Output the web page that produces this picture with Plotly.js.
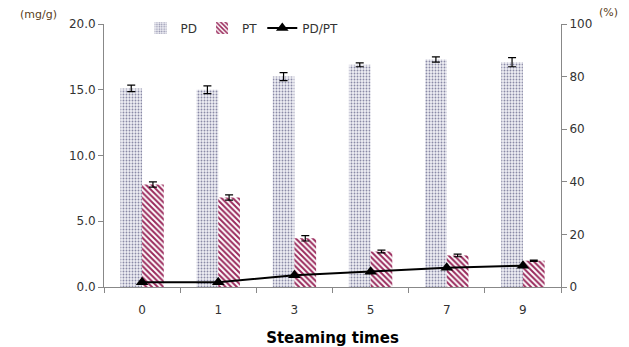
<!DOCTYPE html>
<html><head><meta charset="utf-8">
<script src="https://cdn.plot.ly/plotly-3.0.1.min.js"></script>
<style>html,body{margin:0;padding:0;background:#fff}</style>
</head><body><div id="chart" style="width:629px;height:347px"></div>
<script>
const categories = ["0","1","3","5","7","9"];
const pdValues = [15.1, 15.0, 16.0, 16.9, 17.3, 17.1];
const pdErrors = [0.25, 0.3, 0.3, 0.15, 0.2, 0.35];
const ptValues = [7.8, 6.8, 3.7, 2.7, 2.4, 2.0];
const ptErrors = [0.2, 0.2, 0.2, 0.1, 0.1, 0.05];
const ratioValues = [1.8, 1.8, 4.5, 5.8, 7.3, 8.1];

const traces = [
  {type:'bar', name:'PD', x:categories, y:pdValues,
   error_y:{type:'data', array:pdErrors, color:'#000', thickness:1.2, width:4},
   marker:{color:'#e6e6ee', line:{width:0},
     pattern:{shape:'.', fgcolor:'#8a8aa6', bgcolor:'#eeeef4', size:3, solidity:0.3}}},
  {type:'bar', name:'PT', x:categories, y:ptValues,
   error_y:{type:'data', array:ptErrors, color:'#000', thickness:1.2, width:4},
   marker:{color:'#ffffff', line:{width:0},
     pattern:{shape:'\\', fgcolor:'#9a2a5c', bgcolor:'#ffffff', size:4, solidity:0.5}}},
  {type:'scatter', mode:'lines+markers', name:'PD/PT', x:categories, y:ratioValues, yaxis:'y2',
   line:{color:'#000', width:2}, marker:{symbol:'triangle-up', size:11, color:'#000'}}
];

const layout = {
  width:629, height:347,
  margin:{l:104, r:68, t:24, b:60},
  paper_bgcolor:'#fff', plot_bgcolor:'#fff',
  font:{family:'DejaVu Sans, sans-serif', size:11, color:'#333'},
  barmode:'group', bargap:0.43, bargroupgap:0,
  showlegend:true,
  legend:{orientation:'h', x:0.08, xanchor:'left', y:0.985, yanchor:'middle',
    font:{size:12, color:'#333'}, bgcolor:'rgba(0,0,0,0)', itemwidth:30, tracegroupgap:0},
  xaxis:{type:'category', showline:true, linecolor:'#888', linewidth:1,
    ticks:'outside', ticklen:5, tickcolor:'#888', tickson:'boundaries', ticklabelstandoff:12,
    showgrid:false, zeroline:false, tickfont:{size:12, color:'#333'},
    title:{text:'<b>Steaming times</b>', font:{size:15, color:'#000', family:'DejaVu Sans, sans-serif'}, standoff:16}},
  yaxis:{range:[0,20], dtick:5, tickformat:'.1f', showline:true, linecolor:'#888', linewidth:1,
    ticks:'outside', ticklen:5, tickcolor:'#888', showgrid:false, zeroline:false,
    tickfont:{size:12, color:'#333'}},
  yaxis2:{range:[0,100], dtick:20, overlaying:'y', side:'right', showline:true, linecolor:'#888', linewidth:1,
    ticks:'outside', ticklen:5, tickcolor:'#888', showgrid:false, zeroline:false,
    tickfont:{size:12, color:'#333'}},
  annotations:[
    {text:'(mg/g)', xref:'paper', yref:'paper', x:-0.188, y:1.035, xanchor:'left', yanchor:'middle',
     showarrow:false, font:{size:11, color:'#5a4020'}},
    {text:'(%)', xref:'paper', yref:'paper', x:1.079, y:1.045, xanchor:'left', yanchor:'middle',
     showarrow:false, font:{size:11, color:'#5a4020'}}
  ]
};
Plotly.newPlot('chart', traces, layout, {displayModeBar:false, staticPlot:true});
</script></body></html>
